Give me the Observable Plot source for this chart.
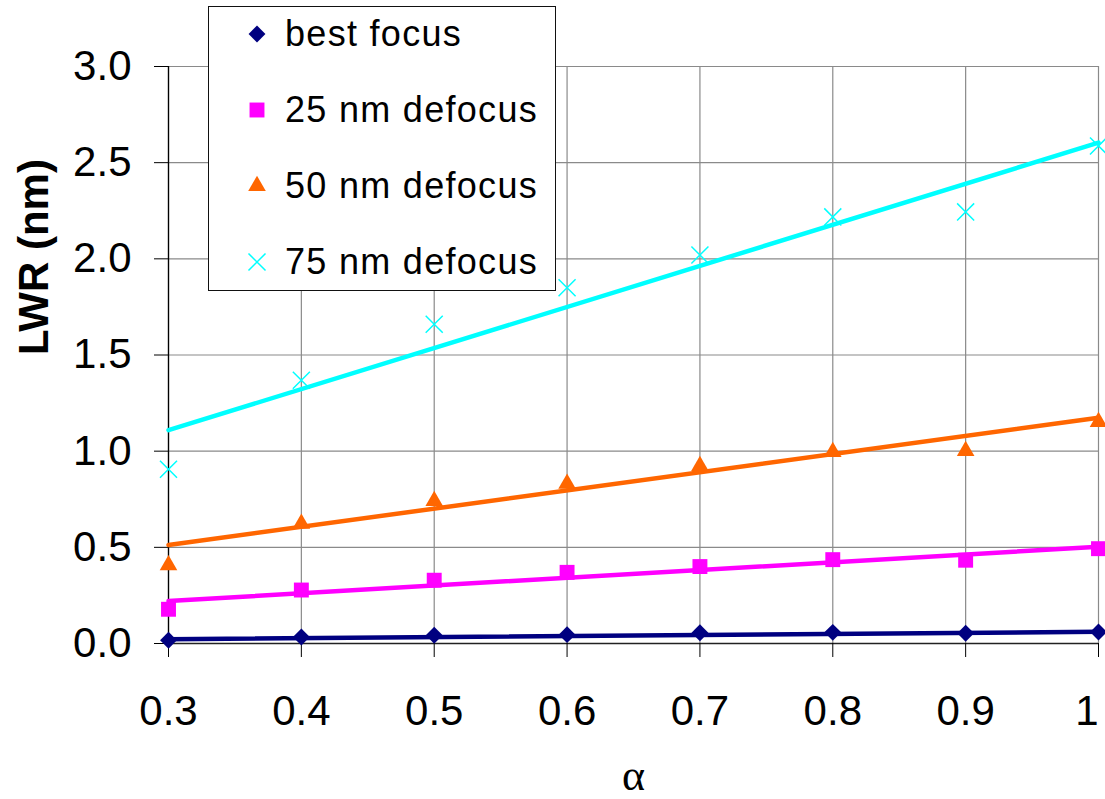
<!DOCTYPE html>
<html>
<head>
<meta charset="utf-8">
<script src="https://cdn.jsdelivr.net/npm/d3@7"></script>
<script src="https://cdn.jsdelivr.net/npm/@observablehq/plot@0.6"></script>
<style>
  html, body { margin: 0; padding: 0; background: #fff; }
  #wrap { position: relative; width: 1105px; height: 799px; font-family: "Liberation Sans", Arial, sans-serif; }
  #legend { position: absolute; left: 208px; top: 6px; width: 348px; height: 285px; border: 1.5px solid #111; background: #fff; box-sizing: border-box; }
  .entry { position: absolute; left: 0; height: 40px; }
  .entry svg { position: absolute; left: 30px; top: 2px; }
  .entry span { position: absolute; left: 76px; font-size: 36px; letter-spacing: 1.3px; white-space: nowrap; color: #000; line-height: 40px; top: 0; }
</style>
</head>
<body>
<div id="wrap"></div>
<script>
// ---- data ----
const alpha = [0.3, 0.4, 0.5, 0.6, 0.7, 0.8, 0.9, 1.0];
const bestFocus = [0.017, 0.034, 0.043, 0.046, 0.056, 0.058, 0.053, 0.060];
const defocus25 = [0.178, 0.278, 0.329, 0.370, 0.400, 0.436, 0.433, 0.493];
const defocus50 = [0.407, 0.623, 0.741, 0.831, 0.923, 0.996, 1.001, 1.152];
const defocus75 = [0.906, 1.369, 1.660, 1.850, 2.020, 2.218, 2.244, 2.587];

// trend lines (endpoints)
const fitAlpha = [0.3, 1.0];
const fitBest = [0.022, 0.061];
const fit25 = [0.221, 0.503];
const fit50 = [0.512, 1.174];
const fit75 = [1.109, 2.604];

const seriesNames = ["best focus", "25 nm defocus", "50 nm defocus", "75 nm defocus"];
const seriesColors = ["#000080", "#FF00FF", "#FF6600", "#00FFFF"];
const seriesSymbols = ["diamond2", "square2", "triangle2", "times"];

const xTicks = [0.3, 0.4, 0.5, 0.6, 0.7, 0.8, 0.9, 1.0];
const xTickLabels = ["0.3", "0.4", "0.5", "0.6", "0.7", "0.8", "0.9", "1"];
const yTicks = [0, 0.5, 1.0, 1.5, 2.0, 2.5, 3.0];
const yTickLabels = ["0.0", "0.5", "1.0", "1.5", "2.0", "2.5", "3.0"];
const xLabel = "α";
const yLabel = "LWR (nm)";

// ---- build tables ----
const pointValues = [bestFocus, defocus25, defocus50, defocus75];
const fitValues = [fitBest, fit25, fit50, fit75];
const symbolR = [7.6, 9.5, 8.4, 7.8];

const xFmt = (d) => xTickLabels[xTicks.indexOf(d)];
const marks = [
  Plot.gridX(xTicks, {stroke: "#8a8a8a", strokeOpacity: 1, strokeWidth: 1.2}),
  Plot.gridY(yTicks, {stroke: "#8a8a8a", strokeOpacity: 1, strokeWidth: 1.2}),
  Plot.ruleX([xTicks[0]], {stroke: "#000", strokeWidth: 1.3}),
  Plot.ruleY([0], {stroke: "#222", strokeWidth: 1.3}),
  Plot.axisY(yTicks, {
    tickSize: 14, tickPadding: 23, fontSize: 42, stroke: "#000",
    tickFormat: (d) => yTickLabels[yTicks.indexOf(d)], label: null
  }),
  Plot.axisX(xTicks, {
    tickSize: 14, stroke: "#000", text: null, label: null
  }),
  Plot.axisX(xTicks.slice(0, -1), {
    tickSize: 0, tickPadding: 52, fontSize: 42,
    tickFormat: xFmt, label: null
  }),
  Plot.axisX(xTicks.slice(-1), {
    tickSize: 0, tickPadding: 52, fontSize: 42, textAnchor: "end",
    tickFormat: xFmt, label: null
  })
];

seriesNames.forEach((name, i) => {
  const fitRows = fitAlpha.map((a, j) => ({alpha: a, lwr: fitValues[i][j], series: name}));
  marks.push(Plot.line(fitRows, {x: "alpha", y: "lwr", stroke: seriesColors[i], strokeWidth: 4.5}));
});
seriesNames.forEach((name, i) => {
  const rows = alpha.map((a, j) => ({alpha: a, lwr: pointValues[i][j], series: name}));
  const isStroke = seriesSymbols[i] === "times";
  marks.push(Plot.dot(rows, {
    x: "alpha", y: "lwr", symbol: () => seriesSymbols[i], r: symbolR[i],
    fill: isStroke ? "none" : seriesColors[i],
    stroke: isStroke ? seriesColors[i] : "none",
    strokeWidth: isStroke ? 1.5 : 0
  }));
});

marks.push(Plot.text([yLabel], {
  text: (d) => d, frameAnchor: "left", dx: -134, rotate: -90,
  fontSize: 42, fontWeight: "bold", fill: "#000"
}));
marks.push(Plot.text([xLabel], {
  text: (d) => d, frameAnchor: "bottom", dy: 132, lineAnchor: "middle",
  fontSize: 44, fontFamily: "Liberation Serif, serif", fill: "#000"
}));

const chart = Plot.plot({
  width: 1105, height: 799,
  marginLeft: 168, marginRight: 7, marginTop: 66, marginBottom: 156,
  x: {domain: [0.3, 1.0]},
  y: {domain: [0, 3]},
  symbol: {domain: seriesSymbols, range: seriesSymbols},
  style: {fontFamily: "Liberation Sans, Arial, sans-serif", background: "#fff", overflow: "visible"},
  marks
});
const wrap = document.getElementById("wrap");
wrap.appendChild(chart);

// ---- legend ----
const legend = document.createElement("div");
legend.id = "legend";
const entryTops = [12, 88, 164, 240];
const symMap = {diamond2: d3.symbolDiamond2, square2: d3.symbolSquare2, triangle2: d3.symbolTriangle2, times: d3.symbolTimes};
seriesNames.forEach((name, i) => {
  const e = document.createElement("div");
  e.className = "entry";
  e.style.top = (entryTops[i] - 5) + "px";
  const svg = d3.create("svg").attr("width", 36).attr("height", 36);
  const rr = symbolR[i];
  const path = d3.symbol(symMap[seriesSymbols[i]], rr * rr * Math.PI)();
  const isStroke = seriesSymbols[i] === "times";
  svg.append("path").attr("d", path).attr("transform", "translate(18,18)")
    .attr("fill", isStroke ? "none" : seriesColors[i])
    .attr("stroke", isStroke ? seriesColors[i] : "none")
    .attr("stroke-width", 1.5);
  e.appendChild(svg.node());
  const s = document.createElement("span");
  s.textContent = name;
  e.appendChild(s);
  legend.appendChild(e);
});
wrap.appendChild(legend);
</script>
</body>
</html>
